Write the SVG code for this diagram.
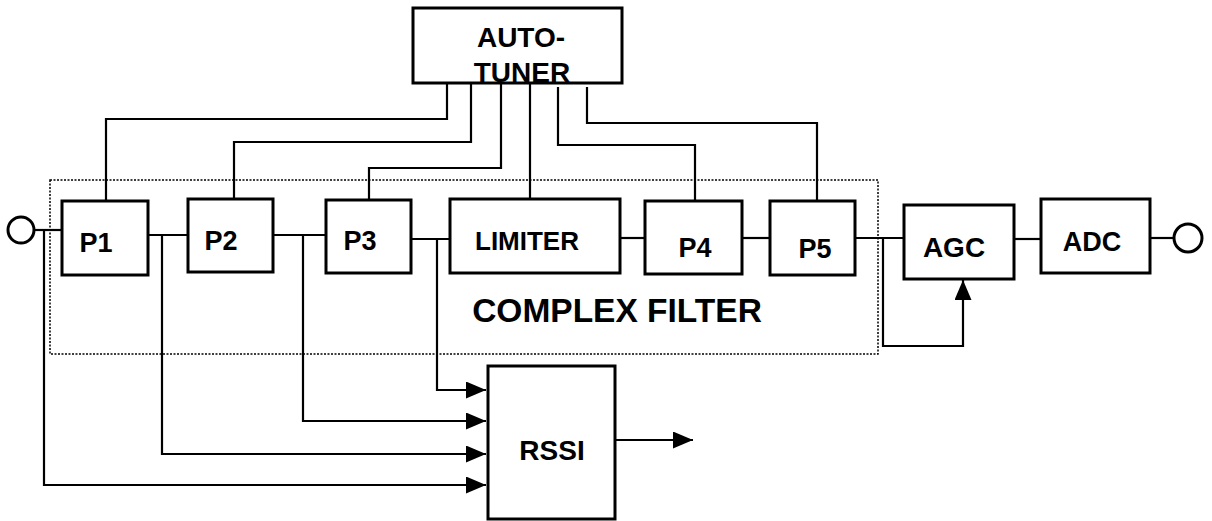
<svg xmlns="http://www.w3.org/2000/svg" width="1212" height="521" viewBox="0 0 1212 521">
<style>
.box{fill:#fff;stroke:#000;stroke-width:3}
.lbl{font-family:"Liberation Sans",Arial,sans-serif;font-weight:bold;fill:#000;text-anchor:middle}
.w{fill:none;stroke:#000;stroke-width:2.2}
.dot{fill:none;stroke:#000;stroke-width:1.5;stroke-dasharray:2 1.5}
</style>
<defs>
<marker id="ah" viewBox="0 0 20 17" refX="20" refY="8.5" markerWidth="20" markerHeight="17" markerUnits="userSpaceOnUse" orient="auto">
<path d="M0,0 L20,8.5 L0,17 z" fill="#000"/>
</marker>
</defs>
<rect width="1212" height="521" fill="#fff"/>
<rect id="complex-filter" class="dot" x="50" y="180" width="828" height="174"/>
<text class="lbl" x="617" y="322" font-size="33.5">COMPLEX FILTER</text>
<g id="connectors">
<line class="w" x1="35" y1="230" x2="62" y2="230"/>
<polyline class="w" points="44,230 44,485 486,485" marker-end="url(#ah)"/>
<line class="w" x1="148" y1="235" x2="188" y2="235"/>
<polyline class="w" points="162,235 162,454 486,454" marker-end="url(#ah)"/>
<line class="w" x1="273" y1="235" x2="326" y2="235"/>
<polyline class="w" points="303,235 303,421 486,421" marker-end="url(#ah)"/>
<line class="w" x1="411" y1="239" x2="450" y2="239"/>
<polyline class="w" points="437,239 437,390 486,390" marker-end="url(#ah)"/>
<line class="w" x1="620" y1="238" x2="645" y2="238"/>
<line class="w" x1="742" y1="238" x2="770" y2="238"/>
<line class="w" x1="855" y1="238" x2="904" y2="238"/>
<polyline class="w" points="883,238 883,346 963,346 963,280" marker-end="url(#ah)"/>
<line class="w" x1="1014" y1="239" x2="1041" y2="239"/>
<line class="w" x1="1150" y1="238" x2="1174" y2="238"/>
<line class="w" x1="615" y1="440" x2="693" y2="440" marker-end="url(#ah)"/>
<polyline class="w" points="106,201 106,119 447,119 447,83"/>
<polyline class="w" points="234,199 234,142 471,142 471,83"/>
<polyline class="w" points="369,200 369,168 501,168 501,83"/>
<line class="w" x1="530" y1="83" x2="530" y2="199"/>
<polyline class="w" points="558,87 558,145 695,145 695,201"/>
<polyline class="w" points="587,87 587,123 817,123 817,201"/>
</g>
<g id="in"><circle class="box" cx="21" cy="230" r="13" stroke-width="2.2"/></g>
<g id="out"><circle class="box" cx="1188" cy="238" r="14" stroke-width="2.2"/></g>
<g id="autotuner"><rect class="box" x="413" y="8" width="209" height="75"/>
<text class="lbl" x="521" y="47" font-size="28">AUTO-</text>
<text class="lbl" x="522" y="82" font-size="28">TUNER</text></g>
<g id="p1"><rect class="box" x="62" y="201" width="86" height="74"/><text class="lbl" x="96" y="252" font-size="27">P1</text></g>
<g id="p2"><rect class="box" x="188" y="199" width="85" height="73"/><text class="lbl" x="221" y="250" font-size="27">P2</text></g>
<g id="p3"><rect class="box" x="326" y="200" width="85" height="73"/><text class="lbl" x="360" y="250" font-size="27">P3</text></g>
<g id="limiter"><rect class="box" x="450" y="199" width="170" height="74"/><text class="lbl" x="527" y="250" font-size="26">LIMITER</text></g>
<g id="p4"><rect class="box" x="645" y="201" width="97" height="73"/><text class="lbl" x="695" y="257" font-size="27">P4</text></g>
<g id="p5"><rect class="box" x="770" y="201" width="85" height="74"/><text class="lbl" x="815" y="258" font-size="27">P5</text></g>
<g id="agc"><rect class="box" x="904" y="205" width="110" height="74"/><text class="lbl" x="954" y="257" font-size="28">AGC</text></g>
<g id="adc"><rect class="box" x="1041" y="199" width="109" height="74"/><text class="lbl" x="1092" y="251" font-size="27">ADC</text></g>
<g id="rssi"><rect class="box" x="488" y="366" width="127" height="153"/><text class="lbl" x="552" y="460" font-size="28">RSSI</text></g>
</svg>
